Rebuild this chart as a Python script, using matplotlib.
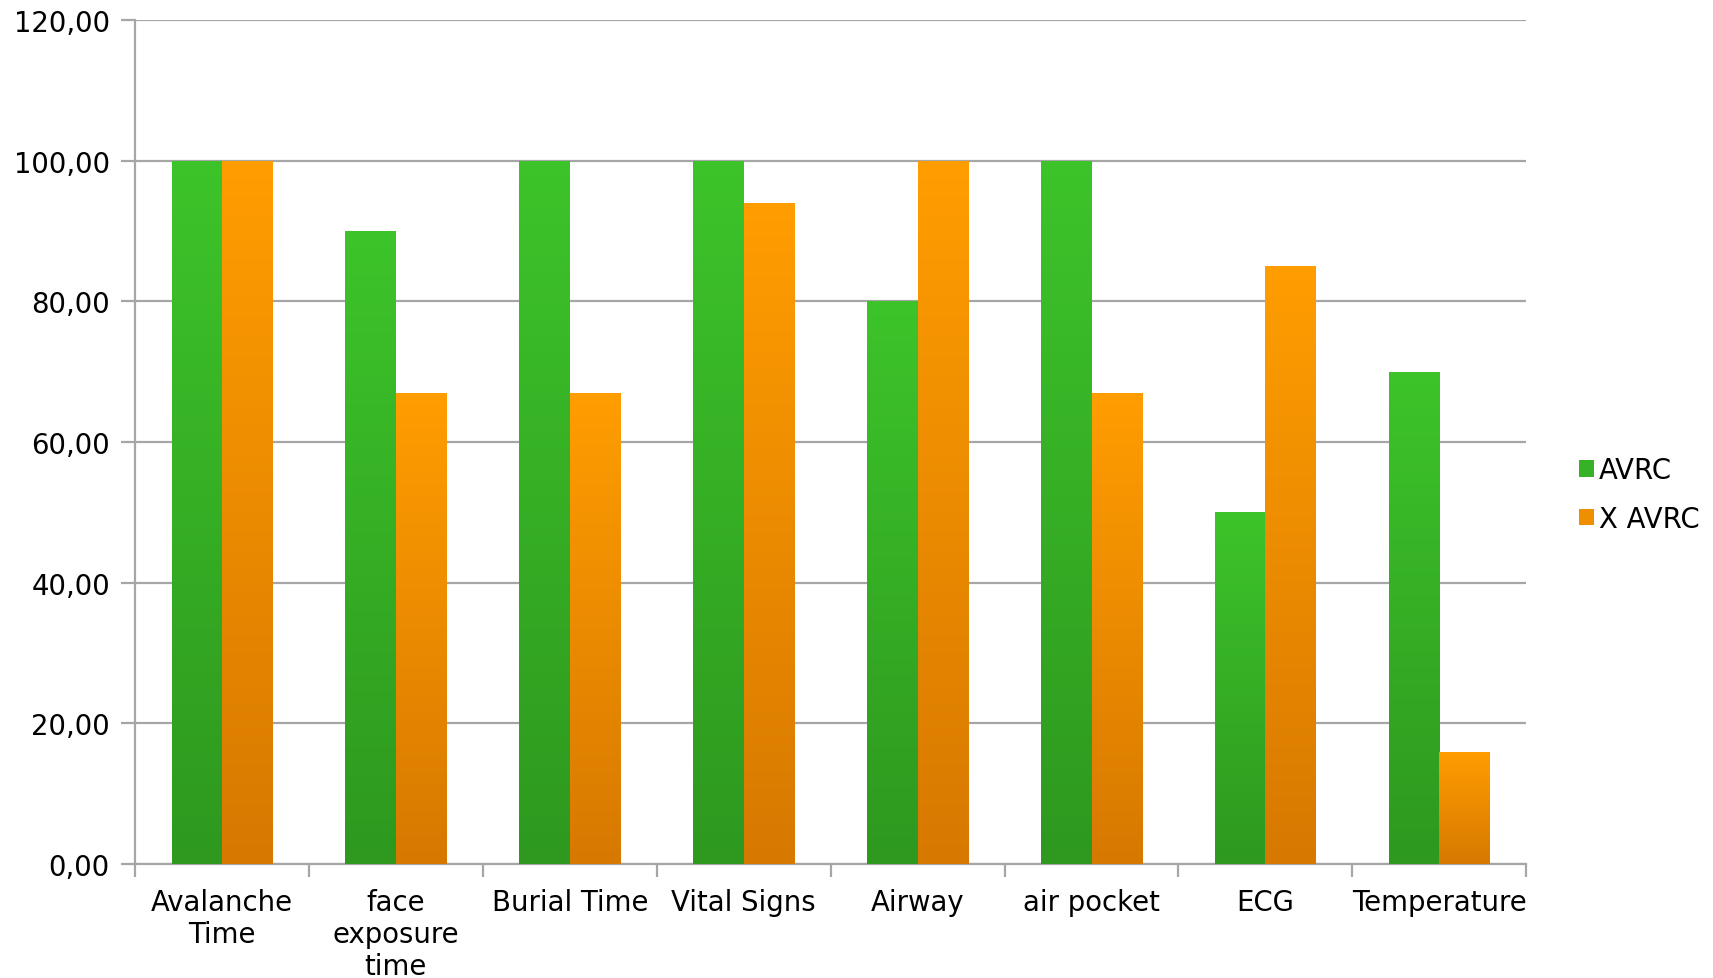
import numpy as np
import matplotlib
matplotlib.use("Agg")
import matplotlib.pyplot as plt
from matplotlib.colors import LinearSegmentedColormap

# datos del grafico
categorias = ["Avalanche\nTime", "face\nexposure\ntime", "Burial Time", "Vital Signs",
              "Airway", "air pocket", "ECG", "Temperature"]
avrc = [100, 90, 100, 100, 80, 100, 50, 70]
x_avrc = [100, 67, 67, 94, 100, 67, 85, 16]
series = ["AVRC", "X AVRC"]
y_ticks = [0, 20, 40, 60, 80, 100, 120]

# degradados (arriba claro, abajo oscuro)
verde = LinearSegmentedColormap.from_list("verde", ["#2E981F", "#3DC42A"])
naranja = LinearSegmentedColormap.from_list("naranja", ["#D77900", "#FF9D00"])

tam = 19.8
plt.rcParams['font.family'] = ['DejaVu Sans']
fig = plt.figure(figsize=(17.13, 9.79), dpi=100)
ax = fig.add_axes([0.0788, 0.1164, 0.8122, 0.8621])

x = np.arange(len(categorias))
ancho = 0.29
grad = np.linspace(0, 1, 256).reshape(-1, 1)

for valores, cmap, desp, nombre, col in [(avrc, verde, -ancho / 2, series[0], "#36B025"),
                                         (x_avrc, naranja, ancho / 2, series[1], "#F08E00")]:
    barras = ax.bar(x + desp, valores, width=ancho, color=col, label=nombre, zorder=3)
    for b in barras:
        x0, y0 = b.get_x(), b.get_y()
        w, h = b.get_width(), b.get_height()
        im = ax.imshow(grad, cmap=cmap, origin="lower", aspect="auto",
                       extent=[x0, x0 + w, y0, y0 + h], zorder=3)
        im.set_clip_path(b)
        b.set_facecolor("none")
        b.set_edgecolor("none")

ax.set_xlim(-0.5, len(categorias) - 0.5)
ax.set_ylim(0, 120)

ax.set_yticks(y_ticks)
ax.set_yticklabels([f"{v:.2f}".replace(".", ",") for v in y_ticks])
ax.yaxis.grid(True, color="#A6A6A6", linewidth=1.6, zorder=0)
ax.set_axisbelow(True)

# marcas del eje x entre categorias
ax.set_xticks(np.arange(-0.5, len(categorias)), minor=False)
ax.set_xticklabels([])
ax.set_xticks(x, minor=True)
ax.set_xticklabels(categorias, minor=True, linespacing=1.2)
ax.tick_params(axis="x", which="major", length=9, width=1.6, color="#A6A6A6")
ax.tick_params(axis="x", which="minor", length=0, pad=17, labelsize=tam)
ax.tick_params(axis="y", length=10, width=1.6, color="#A6A6A6", labelsize=tam, pad=8)

for lado in ["top", "right"]:
    ax.spines[lado].set_visible(False)
for lado in ["left", "bottom"]:
    ax.spines[lado].set_color("#A6A6A6")
    ax.spines[lado].set_linewidth(1.6)

h1, l1 = ax.get_legend_handles_labels()
leg = fig.legend(h1, l1, loc="center left", bbox_to_anchor=(0.9215, 0.494), frameon=False,
                 fontsize=tam, handlelength=0.55, handleheight=0.55, handletextpad=0.2,
                 labelspacing=0.75, borderpad=0, borderaxespad=0)
for h, cmap in zip(leg.legend_handles, [verde, naranja]):
    h.set_facecolor(cmap(0.6))

fig.savefig("out.png", dpi=100)
